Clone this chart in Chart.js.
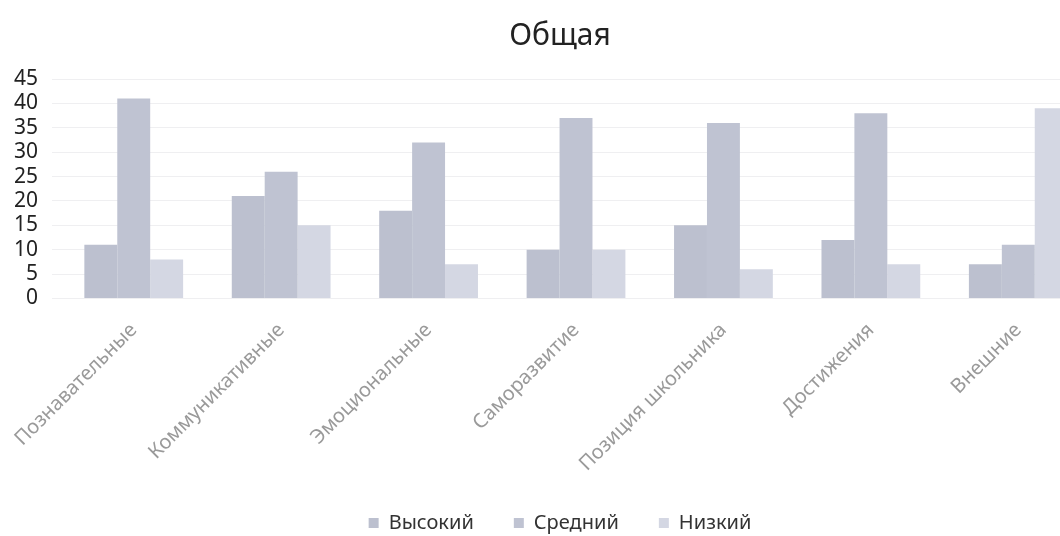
<!DOCTYPE html>
<html lang="ru">
<head>
    <meta charset="UTF-8">
    <title>Общая</title>
    <script src="https://cdn.jsdelivr.net/npm/chart.js"></script>
    <style>
        body {
            margin: 0;
            background: #fff;
            overflow: hidden;
        }
        .chart-container {
            width: 1120px;
            height: 536px;
        }
    </style>
</head>
<body>
<div class="chart-container">
    <canvas id="motivChart"></canvas>
</div>

<script>
    const categories = ['Познавательные', 'Коммуникативные', 'Эмоциональные', 'Саморазвитие',
        'Позиция школьника', 'Достижения', 'Внешние'];
    const highValues = [11, 21, 18, 10, 15, 12, 7];
    const midValues = [41, 26, 32, 37, 36, 38, 11];
    const lowValues = [8, 15, 7, 10, 6, 7, 39];
    const yTicks = [0, 5, 10, 15, 20, 25, 30, 35, 40, 45];

    const font = "'Noto Sans', 'Open Sans', sans-serif";

    // plot runs past the right edge, but title and legend stay centred on the full width
    const recenter = {
        id: 'recenter',
        afterLayout(chart) {
            chart.titleBlock.right += 28;
            chart.legend.right += 28;
        }
    };

    const ctx = document.getElementById('motivChart').getContext('2d');
    new Chart(ctx, {
        type: 'bar',
        data: {
            labels: categories,
            datasets: [{
                label: 'Высокий',
                data: highValues,
                backgroundColor: '#bcc0cf'
            }, {
                label: 'Средний',
                data: midValues,
                backgroundColor: '#bfc3d2'
            }, {
                label: 'Низкий',
                data: lowValues,
                backgroundColor: '#d4d7e3'
            }]
        },
        plugins: [recenter],
        options: {
            responsive: true,
            maintainAspectRatio: false,
            animation: false,
            layout: {
                padding: {left: 0, right: 28, top: 0, bottom: -7}
            },
            datasets: {
                bar: {
                    categoryPercentage: 0.67,
                    barPercentage: 1.0
                }
            },
            plugins: {
                title: {
                    display: true,
                    text: 'Общая',
                    color: '#222',
                    font: {family: font, size: 30, weight: 'normal'},
                    padding: {top: 18, bottom: 25}
                },
                legend: {
                    position: 'bottom',
                    labels: {
                        color: '#333',
                        font: {family: font, size: 20},
                        boxWidth: 10,
                        boxHeight: 10,
                        padding: 40
                    }
                },
                tooltip: {enabled: false}
            },
            scales: {
                x: {
                    grid: {display: false},
                    border: {display: false},
                    afterFit: axis => {
                        axis.height -= 15;
                    },
                    ticks: {
                        color: '#9a9a9a',
                        font: {family: font, size: 20},
                        minRotation: 45,
                        maxRotation: 45,
                        autoSkip: false,
                        padding: 12
                    }
                },
                y: {
                    min: 0,
                    max: 45,
                    afterBuildTicks: axis => {
                        axis.ticks = yTicks.map(v => ({value: v}));
                    },
                    grid: {color: 'rgba(220,220,225,0.45)'},
                    border: {display: false},
                    ticks: {
                        color: '#222',
                        font: {family: font, size: 21},
                        autoSkip: false,
                        padding: 14
                    }
                }
            }
        }
    });
</script>
</body>
</html>
